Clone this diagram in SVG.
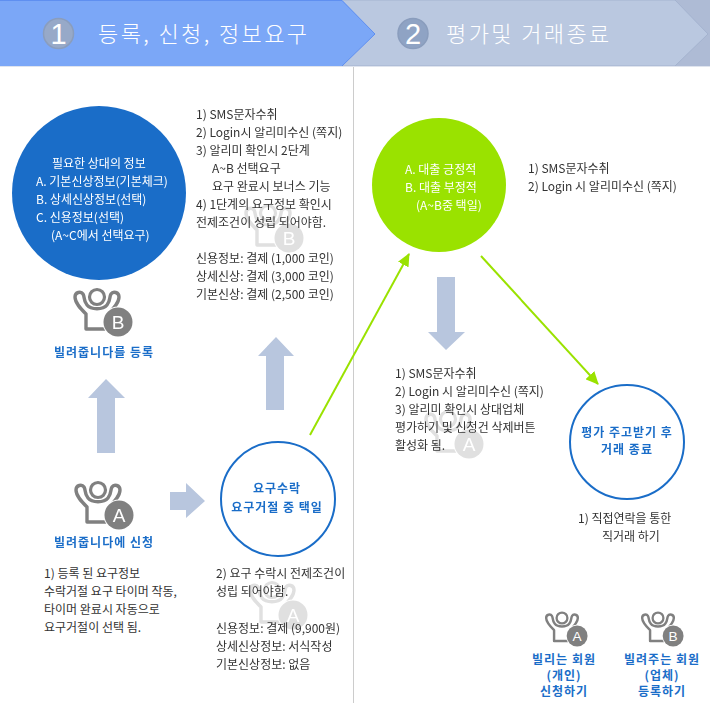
<svg xmlns="http://www.w3.org/2000/svg" xmlns:xlink="http://www.w3.org/1999/xlink" width="710" height="703" viewBox="0 0 710 703">
<style>
text{font-family:"Noto Sans CJK KR","Noto Sans",sans-serif;font-size:12px;fill:#333;dominant-baseline:central;translate:0 -1px}
.w{fill:#fff}
.b{fill:#1a6dc8;font-weight:700;letter-spacing:1px}
.c{text-anchor:middle}
.h{fill:#fff;font-size:22px;font-weight:300;letter-spacing:2.4px;translate:none}
.n{fill:#fff;font-family:"Liberation Sans",sans-serif;font-size:29px;text-anchor:middle;translate:none}
.blk{fill:#b8c6de}
.num{stroke:#8a9dbd;stroke-width:1.5}
.wm{opacity:.25}
.lt{fill:#fff;font-family:"Liberation Sans",sans-serif;font-size:19px;text-anchor:middle;translate:none}
</style>
<defs>
<g id="fig">
<circle cx="0" cy="0" r="7.5" fill="none" stroke="#808080" stroke-width="3.2"/>
<path d="M-11,32 L-11,17 C-16,12 -22,6 -22,0 C-22,-5 -16,-6 -14,-3 C-12,0 -14,3 -10,8 C-6,13 6,13 10,8 C14,3 12,0 14,-3 C16,-6 22,-5 22,0 C22,6 16,12 11,17 L11,32 Z" fill="none" stroke="#808080" stroke-width="3.4" stroke-linejoin="round"/>
<circle cx="21" cy="25" r="15.5" fill="#fff"/>
<circle cx="21" cy="25" r="14.5" fill="#808080"/>
</g>
<g id="iconA"><use href="#fig"/><text class="lt" x="21" y="25">A</text></g>
<g id="iconB"><use href="#fig"/><text class="lt" x="21" y="25">B</text></g>
<marker id="ga" markerWidth="14" markerHeight="12" refX="12" refY="6" orient="auto" markerUnits="userSpaceOnUse"><path d="M0,0 L13,6 L0,12 Z" fill="#9ae200"/></marker>
</defs>

<g id="header">
<rect x="0" y="0" width="710" height="66" fill="#aebbd5"/>
<path d="M342,0 L675,0 L708,34 L675,66 L342,66 Z" fill="#bac8e0" stroke="#a4b3cf"/>
<path d="M0,0 L342,0 L375,34 L342,66 L0,66 Z" fill="#7ba7f7"/>
<path d="M0,.5 L342,.5 L375,34 L342,66" fill="none" stroke="#5f8ff0"/>
<rect x="0" y="66" width="710" height="1" fill="#dfe4ee"/>
<circle class="num" cx="58.5" cy="33.5" r="15" fill="#97a9c8"/>
<text class="n" x="58.5" y="34">1</text>
<text class="h" x="98" y="32">등록, 신청, 정보요구</text>
<circle class="num" cx="413" cy="33.5" r="15" fill="#8fa3c4"/>
<text class="n" x="413" y="34">2</text>
<text class="h" x="446" y="32">평가및 거래종료</text>
</g>

<rect id="divider" x="353" y="67" width="1" height="636" fill="#ccc"/>

<g id="watermarks" class="wm">
<use href="#iconB" x="268" y="213"/>
<use href="#iconA" x="272" y="590"/>
<use href="#iconA" x="448" y="419"/>
</g>

<g id="connectors">
<path class="blk" d="M97,453 V398 H88 L106,379 L125,398 H115 V453 Z"/>
<path class="blk" d="M170,492 H186 V483 L205,501 L186,518 V510 H170 Z"/>
<path class="blk" d="M266,410 V356 H258 L276,337 L294,356 H284 V410 Z"/>
<path class="blk" d="M437,277 H455 V332 H465 L446,350 L428,332 H437 Z"/>
<line x1="310" y1="435" x2="409" y2="254" stroke="#9ae200" stroke-width="2" marker-end="url(#ga)"/>
<line x1="481" y1="256" x2="598" y2="384" stroke="#9ae200" stroke-width="2" marker-end="url(#ga)"/>
</g>

<g id="node-info">
<circle cx="99" cy="193" r="87" fill="#1a6dc8"/>
<text class="w" x="52" y="163">필요한 상대의 정보</text>
<text class="w" x="36" y="181">A. 기본신상정보(기본체크)</text>
<text class="w" x="36" y="199">B. 상세신상정보(선택)</text>
<text class="w" x="36" y="217">C. 신용정보(선택)</text>
<text class="w" x="51" y="235">(A~C에서 선택요구)</text>
</g>

<g id="node-b">
<use href="#iconB" x="97" y="297"/>
<text class="b c" x="104" y="352">빌려줍니다를 등록</text>
</g>

<g id="note-b">
<text x="196" y="114">1) SMS문자수취</text>
<text x="196" y="132">2) Login시 알리미수신 (쪽지)</text>
<text x="196" y="150">3) 알리미 확인시 2단계</text>
<text x="212" y="168">A~B 선택요구</text>
<text x="212" y="186">요구 완료시 보너스 기능</text>
<text x="196" y="204">4) 1단계의 요구정보 확인시</text>
<text x="196" y="222">전제조건이 성립 되어야함.</text>
<text x="196" y="258">신용정보: 결제 (1,000 코인)</text>
<text x="196" y="276">상세신상: 결제 (3,000 코인)</text>
<text x="196" y="294">기본신상: 결제 (2,500 코인)</text>
</g>

<g id="node-a">
<use href="#iconA" x="98" y="490"/>
<text class="b c" x="104" y="542">빌려줍니다에 신청</text>
</g>

<g id="note-a">
<text x="44" y="573">1) 등록 된 요구정보</text>
<text x="44" y="591">수락거절 요구 타이머 작동,</text>
<text x="44" y="609">타이머 완료시 자동으로</text>
<text x="44" y="627">요구거절이 선택 됨.</text>
</g>

<g id="node-choice">
<circle cx="278" cy="499" r="57" fill="#fff" stroke="#1a6dc8" stroke-width="2"/>
<text class="b c" x="277" y="488">요구수락</text>
<text class="b c" x="277" y="507">요구거절 중 택일</text>
</g>

<g id="note-choice">
<text x="216" y="573">2) 요구 수락시 전제조건이</text>
<text x="216" y="591">성립 되어야함.</text>
<text x="216" y="628">신용정보: 결제 (9,900원)</text>
<text x="216" y="646">상세신상정보: 서식작성</text>
<text x="216" y="664">기본신상정보: 없음</text>
</g>

<g id="node-green">
<circle cx="439" cy="185" r="67" fill="#9ae200"/>
<text class="w" x="405" y="169">A. 대출 긍정적</text>
<text class="w" x="405" y="187">B. 대출 부정적</text>
<text class="w" x="416" y="205">(A~B중 택일)</text>
</g>

<g id="note-green">
<text x="528" y="168">1) SMS문자수취</text>
<text x="528" y="186">2) Login 시 알리미수신 (쪽지)</text>
</g>

<g id="note-down">
<text x="395" y="373">1) SMS문자수취</text>
<text x="395" y="391">2) Login 시 알리미수신 (쪽지)</text>
<text x="395" y="409">3) 알리미 확인시 상대업체</text>
<text x="395" y="427">평가하기 및 신청건 삭제버튼</text>
<text x="395" y="445">활성화 됨.</text>
</g>

<g id="node-end">
<circle cx="627" cy="442" r="57" fill="#fff" stroke="#1a6dc8" stroke-width="2"/>
<text class="b c" x="627" y="432">평가 주고받기 후</text>
<text class="b c" x="627" y="449">거래 종료</text>
</g>

<g id="note-end">
<text x="578" y="518">1) 직접연락을 통한</text>
<text x="602" y="536">직거래 하기</text>
</g>

<g id="legend-a">
<use href="#iconA" transform="translate(562,618) scale(.72)"/>
<text class="b c" x="564" y="659">빌리는 회원</text>
<text class="b c" x="564" y="675">(개인)</text>
<text class="b c" x="564" y="691">신청하기</text>
</g>

<g id="legend-b">
<use href="#iconB" transform="translate(658,618) scale(.72)"/>
<text class="b c" x="662" y="659">빌려주는 회원</text>
<text class="b c" x="662" y="675">(업체)</text>
<text class="b c" x="662" y="691">등록하기</text>
</g>
</svg>
